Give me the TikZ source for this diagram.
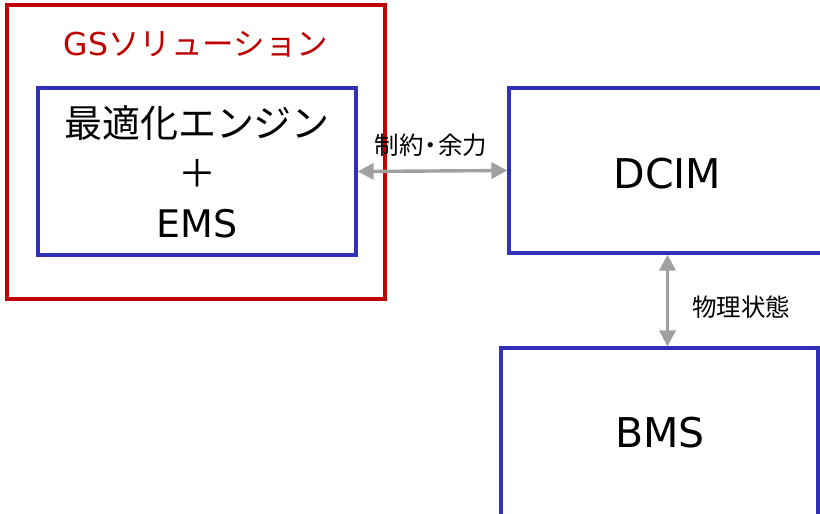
\documentclass[tikz,border=0pt]{standalone}
\usepackage{fontspec}
\setmainfont{DejaVu Sans}
\newfontfamily\cjk{Noto Sans CJK JP}
\usetikzlibrary{arrows.meta,calc}
\definecolor{gsred}{HTML}{C00000}
\definecolor{bxblue}{HTML}{3030B8}
\definecolor{arrgray}{HTML}{A0A0A0}
\begin{document}
\begin{tikzpicture}[x=1pt,y=-1pt,
  redbox/.style={draw=gsred,line width=3.2pt,rectangle,inner sep=0pt},
  bluebox/.style={draw=bxblue,line width=3.2pt,rectangle,inner sep=0pt,align=center},
  conn/.style={draw=arrgray,line width=3.4pt,{Triangle[length=16pt,width=16pt]}-{Triangle[length=16pt,width=16pt]}},
  lbl/.style={font=\cjk\fontsize{24.5}{28}\selectfont,inner sep=0pt}]
\useasboundingbox (0,0) rectangle (820,514);
\node[redbox,minimum width=378pt,minimum height=294pt] (gs) at (196,152) {};
\node[inner sep=0pt,text=gsred,font=\fontsize{31.5}{38}\selectfont] (gstitle) at (196,44) {GS{\cjk ソリューション}};
\node[bluebox,minimum width=318pt,minimum height=167pt] (opt) at (197,171.5) {};
\node[inner sep=0pt,align=center,font=\fontsize{38}{50}\selectfont] (opttxt) at (197,172) {{\cjk 最適化エンジン}\\{\cjk ＋}\\EMS};
\node[bluebox,minimum width=317pt,minimum height=165pt] (dcim) at (667.5,170.5) {};
\node[inner sep=0pt,font=\fontsize{41}{48}\selectfont] (dcimtxt) at (667.5,174) {DCIM};
\node[bluebox,minimum width=317pt,minimum height=170pt] (bms) at (659.5,433) {};
\node[inner sep=0pt,font=\fontsize{41}{48}\selectfont] (bmstxt) at (660,433) {BMS};
\draw[conn] (opt.east) -- (dcim.west);
\draw[conn] (dcim.south) -- (dcim.south |- bms.north);
\node[lbl] (l1) at (431,145) {制約\hspace{-5pt}・\hspace{-5pt}余力};
\node[lbl] (l2) at (741,307) {物理状態};
\end{tikzpicture}
\end{document}
